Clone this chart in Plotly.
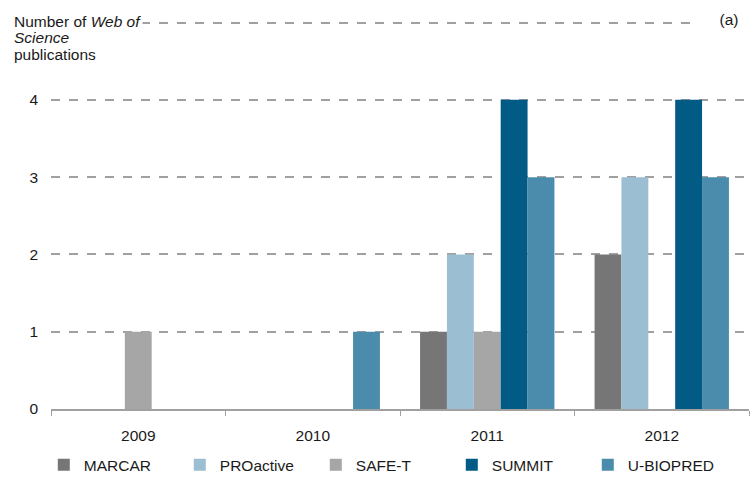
import plotly.graph_objects as go


years = ["2009", "2010", "2011", "2012"]

marcar = [0, 0, 1, 2]
proactive = [0, 0, 2, 3]
safe_t = [1, 0, 1, 0]
summit = [0, 0, 4, 4]
u_biopred = [0, 1, 3, 3]

SERIES = [
    ("MARCAR", marcar, "#767676"),
    ("PROactive", proactive, "#9cbed2"),
    ("SAFE-T", safe_t, "#a6a6a6"),
    ("SUMMIT", summit, "#015b85"),
    ("U-BIOPRED", u_biopred, "#4b8cac"),
]

y_ticks = [0, 1, 2, 3, 4, 5]
y_labels = ["0", "1", "2", "3", "4", ""]

FONT = "Liberation Sans"
TEXT = "#1a1a1a"
SIZE = 15.5

fig = go.Figure()

for name, values, colour in SERIES:
    fig.add_trace(
        go.Bar(
            x=years,
            y=values,
            name=name,
            marker=dict(color=colour, line=dict(width=0))
        )
    )

fig.update_layout(
    barmode="group",
    bargap=0.23,
    bargroupgap=0,
    paper_bgcolor="white",
    plot_bgcolor="white",
    width=755,
    height=480,
    font=dict(family=FONT, size=SIZE, color=TEXT),
    margin=dict(l=51, r=6, t=21, b=71, autoexpand=False),
    legend=dict(
        orientation="h",
        x=0.058,
        xanchor="left",
        xref="container",
        y=0.031,
        yanchor="middle",
        yref="container",
        entrywidth=91,
        entrywidthmode="pixels",
        itemwidth=30,
        font=dict(size=SIZE),
        traceorder="normal"
    ),
    showlegend=True
)

fig.update_xaxes(
    type="category",
    showline=True,
    linecolor="#a0a0a0",
    linewidth=1.5,
    ticks="outside",
    tickson="boundaries",
    ticklen=5,
    tickcolor="#a0a0a0",
    showgrid=False,
    ticklabelstandoff=12
)

fig.update_yaxes(
    range=[0, 5.02],
    tickvals=y_ticks,
    ticktext=y_labels,
    showgrid=True,
    gridcolor="#a0a0a0",
    gridwidth=1.5,
    griddash="dash",
    zeroline=False,
    showline=False,
    ticks="",
    ticklabelstandoff=12
)

title_lines = ["Number of <i>Web of</i>", "<i>Science</i>", "publications"]
for i, line in enumerate(title_lines):
    fig.add_annotation(
        text=line,
        xref="paper", yref="paper",
        x=-0.056, y=1.0 - i * 0.043,
        xanchor="left", yanchor="middle",
        align="left",
        showarrow=False,
        bgcolor="white",
        borderpad=1,
        font=dict(size=SIZE, color=TEXT)
    )

fig.add_annotation(
    text="&nbsp;&nbsp;&nbsp;&nbsp;&nbsp;(a)&nbsp;&nbsp;&nbsp;",
    xref="paper", yref="paper",
    x=1.006, y=1.004,
    xanchor="right", yanchor="middle",
    showarrow=False,
    bgcolor="white",
    borderpad=1,
    font=dict(size=SIZE, color=TEXT)
)

fig.write_html(
    "out.html",
    config={"displayModeBar": False},
    post_script="document.body.style.margin = '0';"
)
